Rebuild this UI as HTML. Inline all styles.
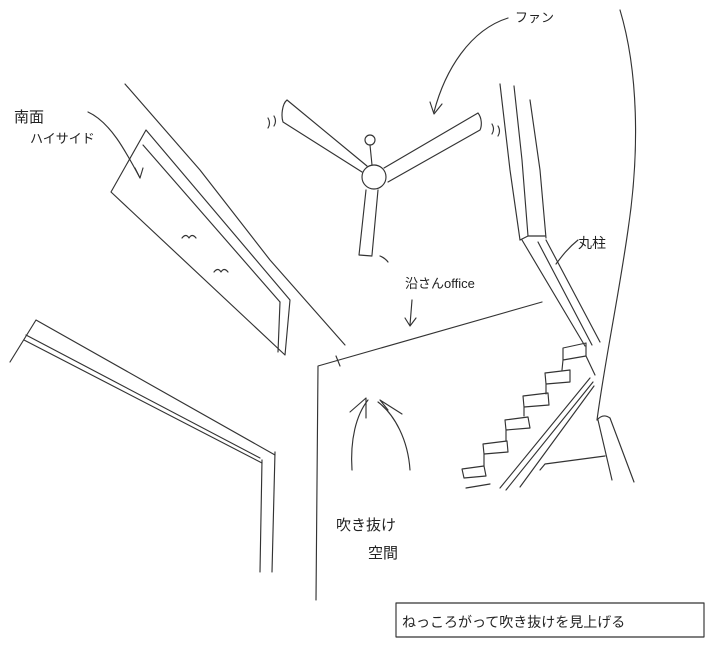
<!DOCTYPE html>
<html><head><meta charset="utf-8">
<style>
html,body{margin:0;padding:0;background:#fff;}
svg{display:block;}
text{font-family:"Liberation Sans","Noto Sans CJK JP",sans-serif;fill:#222;}
</style></head>
<body>
<svg width="721" height="650" viewBox="0 0 721 650" xmlns="http://www.w3.org/2000/svg" fill="none" stroke="#333" stroke-width="1.15" stroke-linecap="round" stroke-linejoin="round">
<!-- long diagonal left -->
<path d="M125 84 L200 170 L270 260 L345 345"/>
<!-- high side window panel -->
<path d="M146 130 L290 300 L285 355 L111 192 Z"/>
<path d="M143 145 L280 302"/>
<path d="M280 302 L278 352"/>
<!-- birds -->
<path d="M182 238 q4 -5 7 0 q3 -5 7 0"/>
<path d="M214 272 q4 -5 7 0 q3 -5 7 0"/>
<!-- label arrow -->
<path d="M88 112 C110 122 125 150 140 178"/>
<path d="M135 168 L140 178 L143 168"/>
<text x="14" y="122" font-size="15" stroke="none">南面</text>
<text x="30" y="143" font-size="13" stroke="none">ハイサイド</text>
<!-- bottom-left beam -->
<path d="M10 362 L36 320 L275 455"/>
<path d="M26 335 L260 458"/>
<path d="M24 340 L262 463"/>
<path d="M262 460 L260 572"/>
<path d="M275 452 L272 572"/>
<!-- fan -->
<circle cx="374" cy="177" r="12"/>
<circle cx="370" cy="140" r="5"/>
<path d="M370 145 L372 165"/>
<path d="M287 100 L367 166 M283 122 L362 172 M287 100 C282 104 281 116 283 122"/>
<path d="M384 168 L478 113 M388 182 L480 130 M478 113 C482 118 482 126 480 130"/>
<path d="M366 190 L359 255 M378 190 L372 255 M359 255 L372 256"/>
<path d="M268 118 q3 5 0 10 M274 116 q3 5 0 10"/>
<path d="M492 124 q3 5 0 10 M498 126 q3 5 0 10"/>
<path d="M380 256 q5 2 8 6"/>
<!-- fan label -->
<path d="M508 18 C470 30 445 70 434 112"/>
<path d="M430 102 L434 114 L442 104"/>
<text x="515" y="22" font-size="13" stroke="none">ファン</text>
<!-- office label -->
<text x="405" y="288" font-size="13" stroke="none">沿さんoffice</text>
<path d="M412 300 L410 325"/>
<path d="M405 318 L410 326 L416 318"/>
<!-- office wall -->
<path d="M316 600 L318 366 L542 302"/>
<path d="M336 356 L340 366"/>
<!-- arrows up -->
<path d="M352 470 C350 440 356 415 368 400"/>
<path d="M410 470 C408 440 395 415 378 402"/>
<path d="M350 412 L366 398 L366 418"/>
<path d="M388 410 L380 400 L402 414"/>
<text x="336" y="530" font-size="15" stroke="none">吹き抜け</text>
<text x="368" y="558" font-size="15" stroke="none">空間</text>
<!-- column -->
<path d="M500 84 L510 170 L520 240"/>
<path d="M514 86 L522 160 L528 236"/>
<path d="M530 100 L540 170 L546 238"/>
<path d="M520 240 L528 236 L545 236"/>
<path d="M620 10 C638 70 640 150 628 230 C618 300 605 360 597 420"/>
<path d="M597 420 q6 -7 13 -2 L634 482"/>
<path d="M598 420 L612 480"/>
<!-- maru hashira label -->
<text x="578" y="248" font-size="14" stroke="none">丸柱</text>
<path d="M578 240 C568 248 562 256 556 264"/>
<!-- stair band -->
<path d="M522 240 L585 346"/>
<path d="M538 242 L592 345"/>
<path d="M546 240 L600 342"/>
<!-- steps -->
<path d="M563 348 L586 343 L586 356 L563 360 Z M563 360 L562 370"/>
<path d="M545 373 L570 370 L570 382 L546 384 Z M546 384 L546 394"/>
<path d="M523 396 L548 393 L549 405 L524 407 Z M524 407 L524 416"/>
<path d="M505 420 L528 417 L530 428 L506 430 Z M506 430 L506 441"/>
<path d="M483 444 L507 441 L508 452 L484 454 Z M484 454 L484 466"/>
<path d="M462 469 L484 466 L486 476 L464 478 Z"/>
<path d="M466 488 L490 484"/>
<path d="M586 356 L595 375"/>
<!-- handrail -->
<path d="M590 378 L500 488"/>
<path d="M593 382 L506 490"/>
<path d="M594 386 L520 487"/>
<path d="M540 470 L545 464 L605 456"/>
<!-- caption box -->
<rect x="396" y="603" width="308" height="34"/>
<text x="402" y="627" font-size="14" stroke="none">ねっころがって吹き抜けを見上げる</text>
</svg>
</body></html>
